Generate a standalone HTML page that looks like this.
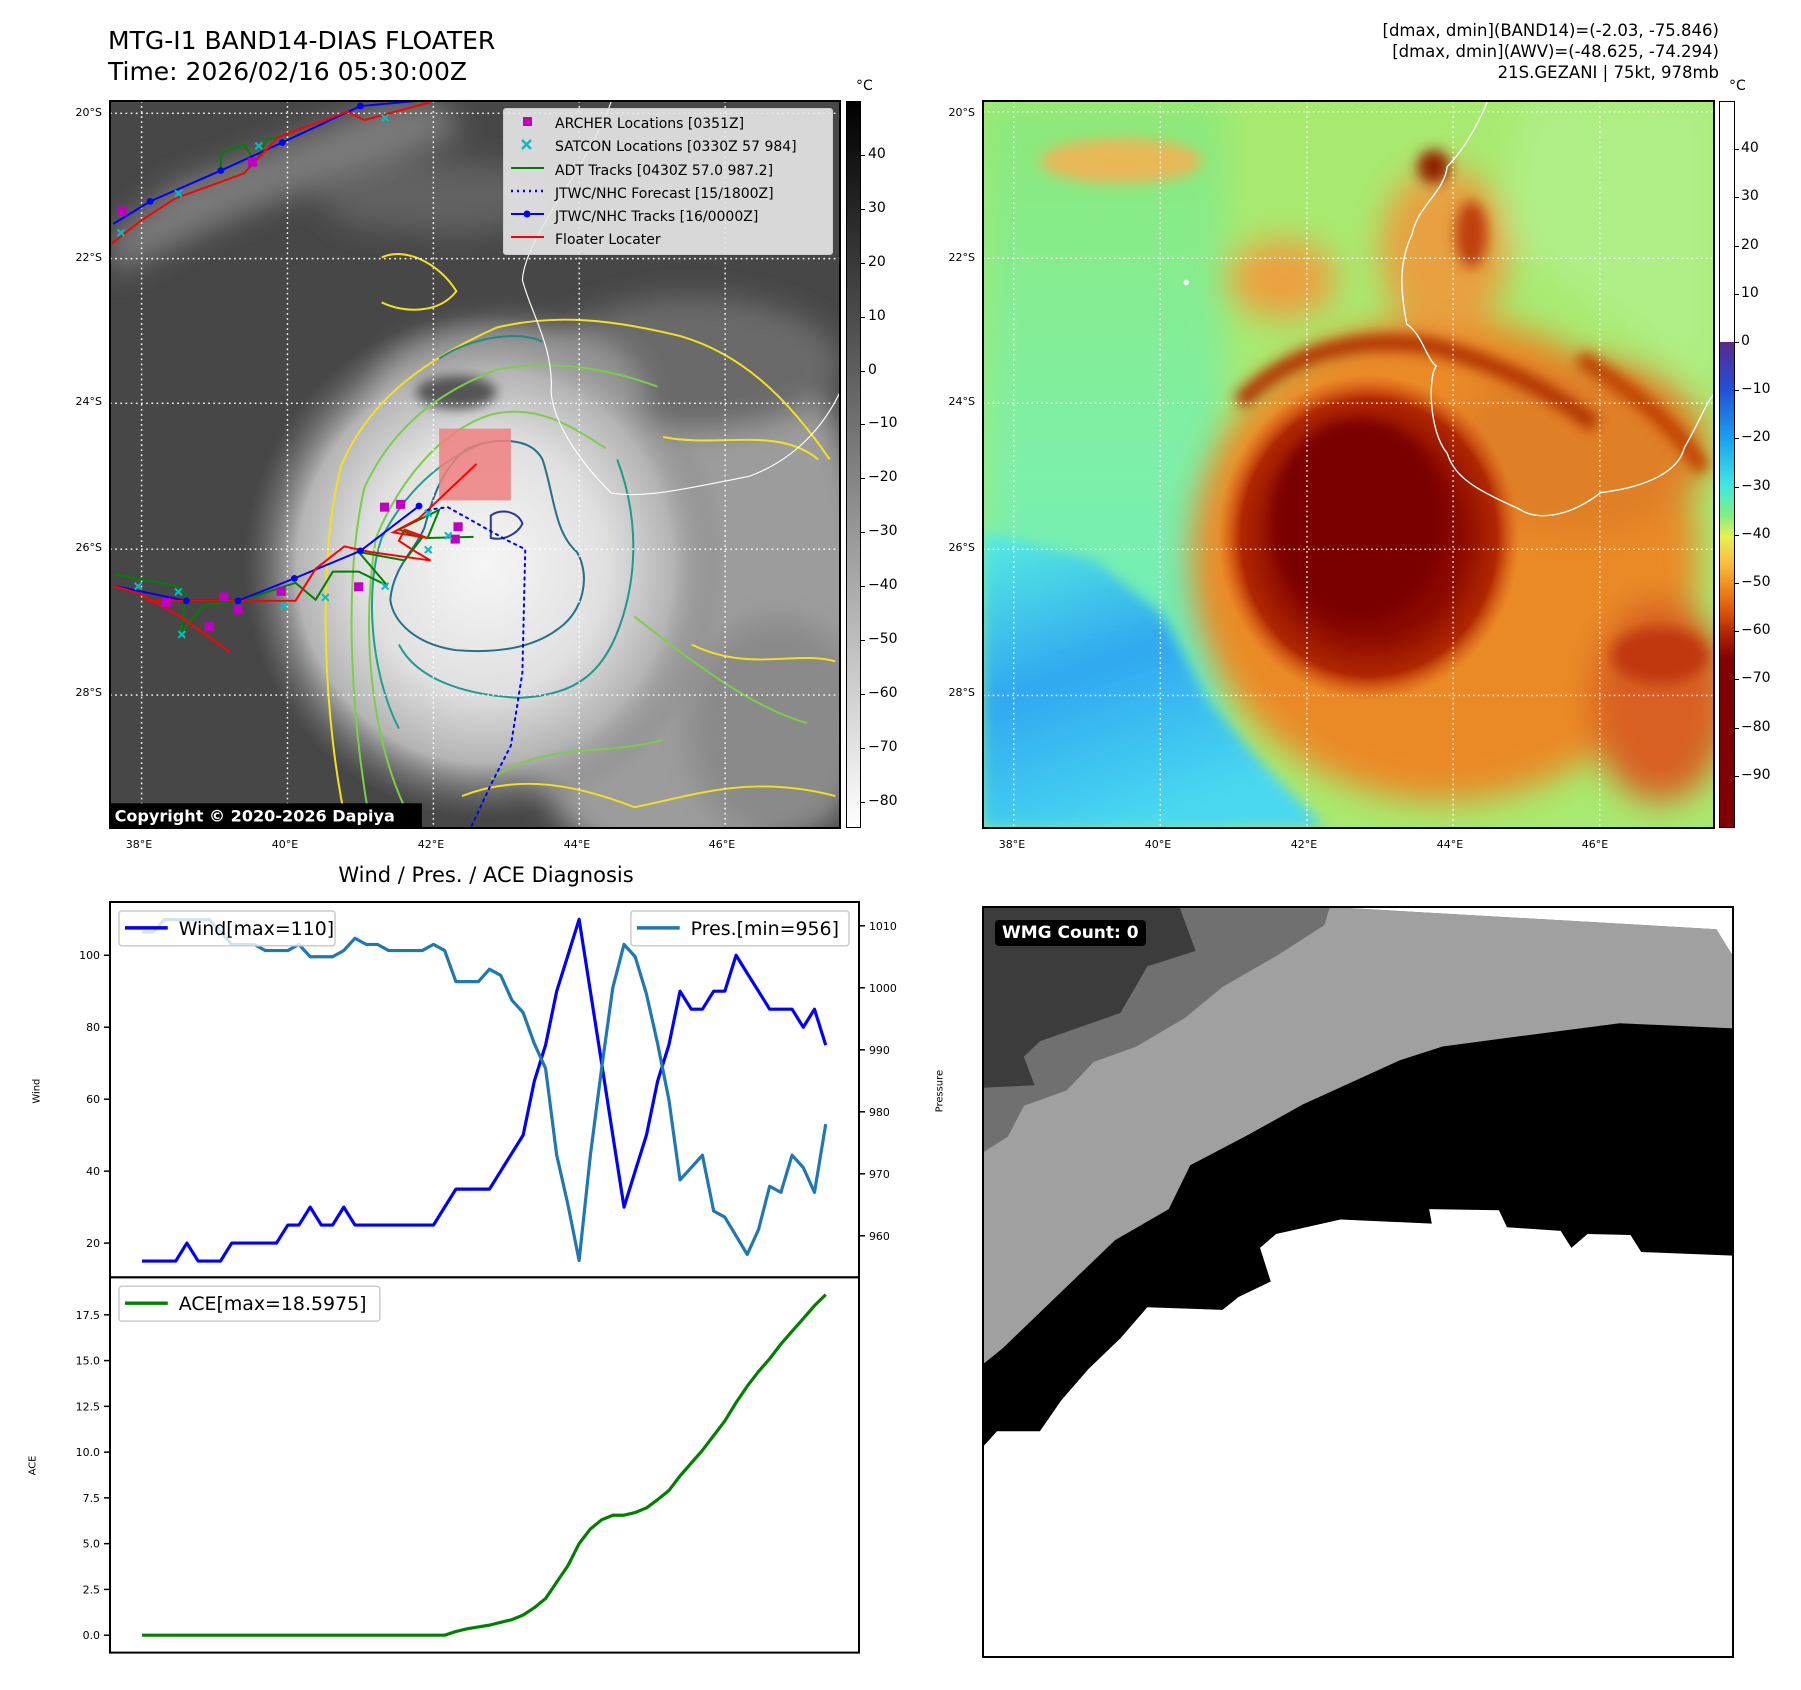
<!DOCTYPE html>
<html><head><meta charset="utf-8"><title>MTG-I1 BAND14-DIAS FLOATER</title>
<style>
body{margin:0;background:#fff;}
#page{position:relative;width:1801px;height:1690px;background:#fff;overflow:hidden;font-family:"DejaVu Sans","Liberation Sans",sans-serif;color:#000;}
.abs{position:absolute;}
.lbl{position:absolute;font-size:11px;white-space:nowrap;}
.cbl{position:absolute;font-size:14px;white-space:nowrap;}
.frame{position:absolute;border:2px solid #000;box-sizing:border-box;}
</style></head><body>
<div id="page">

<div class="abs" style="left:108px;top:25px;font-size:25px;line-height:31px;">MTG-I1 BAND14-DIAS FLOATER<br>Time: 2026/02/16 05:30:00Z</div>
<div class="abs" style="right:82px;top:20px;font-size:16.5px;line-height:21px;text-align:right;">[dmax, dmin](BAND14)=(-2.03, -75.846)<br>[dmax, dmin](AWV)=(-48.625, -74.294)<br>21S.GEZANI | 75kt, 978mb</div>

<!-- LEFT MAP -->
<svg class="abs" style="left:110px;top:101px;" width="730" height="727" viewBox="187 181 1271 1296" preserveAspectRatio="none">
<defs>
<filter id="b1" x="-50%" y="-50%" width="200%" height="200%"><feGaussianBlur stdDeviation="25"/></filter>
<filter id="b2" x="-50%" y="-50%" width="200%" height="200%"><feGaussianBlur stdDeviation="10"/></filter>
<radialGradient id="storm" cx="0.5" cy="0.5" r="0.5"><stop offset="0" stop-color="#f6f6f6"/><stop offset="0.5" stop-color="#e0e0e0"/><stop offset="0.78" stop-color="#b4b4b4"/><stop offset="1" stop-color="#7a7a7a" stop-opacity="0"/></radialGradient>
</defs>
<rect x="187" y="181" width="1271" height="1296" fill="#474747"/>
<g filter="url(#b1)">
<ellipse cx="1180" cy="1050" rx="330" ry="520" fill="#9c9c9c"/>
<ellipse cx="1200" cy="650" rx="260" ry="120" fill="#6a6a6a"/>
<polygon points="190,420 300,330 480,260 650,190 760,181 800,240 600,310 400,390 190,490" fill="#7a7a7a"/>
<polygon points="520,330 700,280 900,300 1000,380 800,420 600,400" fill="#626262"/>
<ellipse cx="880" cy="700" rx="230" ry="120" fill="#9a9a9a"/>
<ellipse cx="1350" cy="1300" rx="160" ry="200" fill="#8a8a8a"/>
</g>
<ellipse cx="840" cy="1010" rx="420" ry="450" fill="url(#storm)"/>
<ellipse cx="790" cy="700" rx="70" ry="30" fill="#555" filter="url(#b2)"/>
<g fill="none" stroke-width="3.5">
<path d="M600,1477 C560,1300 545,1000 590,830 C640,710 740,640 860,585 C960,560 1060,570 1180,600 C1280,630 1360,700 1440,820" stroke="#f5e020"/>
<path d="M640,1470 C610,1300 590,1050 630,870 C680,760 760,700 860,660 C960,640 1060,660 1140,690" stroke="#7ccd4a"/>
<path d="M700,1440 C650,1330 620,1150 650,960 C690,860 760,770 850,740 C930,720 990,760 1050,800" stroke="#7ccd4a"/>
<path d="M690,1300 C640,1200 630,1050 660,960 C700,880 760,820 840,790" stroke="#20a08a"/>
<path d="M810,800 C860,780 920,780 940,820 C960,880 960,950 1000,985 C1025,1030 1010,1090 970,1120 C920,1160 850,1165 790,1160 C720,1150 680,1110 675,1070 C680,1010 720,980 735,940 C750,880 770,830 810,800 Z" stroke="#22708a"/>
<path d="M1070,820 C1100,900 1110,1000 1080,1100 C1050,1200 1000,1240 900,1245 C800,1240 720,1210 690,1150" stroke="#1f9a8a"/>
<path d="M760,640 C820,600 900,590 940,610" stroke="#1f8a8a"/>
<path d="M1100,1100 C1200,1180 1300,1260 1400,1290" stroke="#7ccd4a"/>
<path d="M1150,780 C1250,800 1350,760 1420,820" stroke="#f5e020"/>
<path d="M800,1420 C900,1380 1000,1400 1100,1440 C1200,1420 1300,1380 1450,1420" stroke="#f5e020"/>
<path d="M1200,1150 C1300,1200 1380,1160 1450,1180" stroke="#f5e020"/>
<path d="M660,460 C700,440 760,470 790,520 C760,560 700,560 660,540" stroke="#f5e020"/>
<path d="M850,1390 C950,1320 1050,1350 1150,1320" stroke="#7ccd4a"/>
<path d="M850,920 C870,905 900,915 905,935 C895,955 870,965 850,960 Z" stroke="#2a3a8a"/>
</g>
<path d="M1060,181 C1020,300 910,420 905,500 C920,560 960,620 955,700 C960,760 1010,830 1060,880 C1120,890 1200,870 1300,850 C1380,820 1430,760 1458,700" fill="none" stroke="#fff" stroke-width="2"/>
<g stroke="#fff" stroke-width="2.5" stroke-dasharray="3,6">
<line x1="187" y1="203" x2="1458" y2="203"/><line x1="187" y1="462" x2="1458" y2="462"/><line x1="187" y1="720" x2="1458" y2="720"/><line x1="187" y1="980" x2="1458" y2="980"/><line x1="187" y1="1240" x2="1458" y2="1240"/>
<line x1="242" y1="181" x2="242" y2="1477"/><line x1="496" y1="181" x2="496" y2="1477"/><line x1="750" y1="181" x2="750" y2="1477"/><line x1="1004" y1="181" x2="1004" y2="1477"/><line x1="1258" y1="181" x2="1258" y2="1477"/>
</g>
<rect x="760" y="765" width="125" height="128" fill="#f08080" opacity="0.85"/>
<g fill="none" stroke-width="3.5">
<polyline points="195,1025 300,1045 320,1060 310,1130 350,1080 420,1070 480,1050 510,1040 545,1070 575,1020 620,1020 670,1045 620,985 700,1000 730,960 690,945 760,910 740,960 820,958" stroke="#008000"/>
<polyline points="380,300 380,275 420,258 440,290 460,250 500,240" stroke="#008000"/>
<polyline points="193,1045 320,1072 410,1072 508,1032 623,983 725,903" stroke="#0000ff"/>
<polyline points="193,400 257,360 380,305 487,255 623,190 720,181" stroke="#0000ff"/>
<polyline points="190,435 240,395 300,355 420,310 480,245 600,200 630,215 745,183" stroke="#ff0000"/>
<polyline points="193,1045 240,1060 310,1100 395,1163" stroke="#ff0000"/>
<polyline points="250,1072 510,1072 545,1015 595,975 640,985 745,1000 720,985 690,965 700,945 740,960 680,950 725,925 825,828" stroke="#ff0000"/>
<polyline points="740,910 775,905 880,965 910,980 905,1200 885,1330 850,1400 815,1477" stroke="#0000ff" stroke-dasharray="4,8" stroke-linecap="round"/>
</g>
<g fill="#0000ff"><circle cx="257" cy="360" r="6"/><circle cx="380" cy="305" r="6"/><circle cx="487" cy="255" r="6"/><circle cx="623" cy="190" r="6"/><circle cx="320" cy="1072" r="6"/><circle cx="410" cy="1072" r="6"/><circle cx="508" cy="1032" r="6"/><circle cx="623" cy="983" r="6"/><circle cx="725" cy="903" r="6"/></g>
<g fill="#c000c0"><rect x="200" y="369" width="16" height="16"/><rect x="427" y="282" width="16" height="16"/><rect x="277" y="1067" width="16" height="16"/><rect x="377" y="1057" width="16" height="16"/><rect x="402" y="1080" width="16" height="16"/><rect x="352" y="1110" width="16" height="16"/><rect x="477" y="1047" width="16" height="16"/><rect x="612" y="1039" width="16" height="16"/><rect x="657" y="897" width="16" height="16"/><rect x="685" y="892" width="16" height="16"/><rect x="785" y="932" width="16" height="16"/><rect x="780" y="954" width="16" height="16"/></g>
<g stroke="#00c0c0" stroke-width="3.5">
<path d="M230,1040l12,12m0,-12l-12,12M300,1050l12,12m0,-12l-12,12M306,1126l12,12m0,-12l-12,12M484,1075l12,12m0,-12l-12,12M556,1060l12,12m0,-12l-12,12M660,1040l12,12m0,-12l-12,12M735,975l12,12m0,-12l-12,12M770,950l12,12m0,-12l-12,12M735,910l12,12m0,-12l-12,12M300,340l12,12m0,-12l-12,12M440,255l12,12m0,-12l-12,12M660,205l12,12m0,-12l-12,12M200,410l12,12m0,-12l-12,12"/>
</g>
<rect x="187" y="1433" width="543" height="44" fill="#000"/>
<text x="195" y="1465" font-size="28" font-weight="bold" fill="#fff" font-family="DejaVu Sans, sans-serif">Copyright © 2020-2026 Dapiya</text>
</svg>
<div class="frame" style="left:109px;top:100px;width:732px;height:729px;"></div>

<!-- Legend -->
<div class="abs" style="left:503px;top:108px;width:328px;height:145px;background:rgba(232,232,232,0.9);border:1px solid #ccc;border-radius:3px;font-size:14px;">
<svg class="abs" style="left:0;top:0" width="328" height="145">
<rect x="19" y="8" width="9" height="9" fill="#c000c0"/>
<path d="M18,31l9,9m0,-9l-9,9" stroke="#00c0c0" stroke-width="2.5"/>
<line x1="7" y1="59" x2="40" y2="59" stroke="#008000" stroke-width="2"/>
<line x1="7" y1="82" x2="40" y2="82" stroke="#0000ff" stroke-width="2.5" stroke-dasharray="2,4"/>
<line x1="7" y1="105" x2="40" y2="105" stroke="#0000ff" stroke-width="2"/><circle cx="23" cy="105" r="3.5" fill="#0000ff"/>
<line x1="7" y1="128" x2="40" y2="128" stroke="#ff0000" stroke-width="2"/>
</svg>
<div class="abs" style="left:51px;top:4px;line-height:23.3px;white-space:nowrap;">ARCHER Locations [0351Z]<br>SATCON Locations [0330Z 57 984]<br>ADT Tracks [0430Z 57.0 987.2]<br>JTWC/NHC Forecast [15/1800Z]<br>JTWC/NHC Tracks [16/0000Z]<br>Floater Locater</div>
</div>

<!-- left colorbar -->
<div class="abs" style="left:846px;top:101px;width:15px;height:727px;background:linear-gradient(#000,#fff);border:1px solid #000;box-sizing:border-box;"></div>
<div class="cbl" style="left:856px;top:78px;">°C</div>

<!-- RIGHT MAP -->
<svg class="abs" style="left:983px;top:101px;" width="731" height="727" viewBox="44 183 1356 1294" preserveAspectRatio="none">
<defs>
<filter id="c1" x="-50%" y="-50%" width="200%" height="200%"><feGaussianBlur stdDeviation="30"/></filter>
<filter id="c2" x="-50%" y="-50%" width="200%" height="200%"><feGaussianBlur stdDeviation="12"/></filter>
<linearGradient id="lefty" x1="0" y1="0" x2="0" y2="1"><stop offset="0" stop-color="#8ce878"/><stop offset="0.5" stop-color="#7ef0a8"/><stop offset="1" stop-color="#60eccc"/></linearGradient>
<linearGradient id="blue" x1="0" y1="0" x2="0.4" y2="1"><stop offset="0" stop-color="#58eee0"/><stop offset="0.5" stop-color="#30a8f0"/><stop offset="1" stop-color="#48d8f0"/></linearGradient>
<radialGradient id="core" cx="0.5" cy="0.5" r="0.5"><stop offset="0" stop-color="#7c0000"/><stop offset="0.6" stop-color="#8a0800"/><stop offset="0.85" stop-color="#b02800"/><stop offset="1" stop-color="#d85010" stop-opacity="0"/></radialGradient>
</defs>
<rect x="44" y="183" width="1356" height="1294" fill="#a8ea70"/>
<rect x="44" y="183" width="450" height="1294" fill="url(#lefty)" filter="url(#c1)"/>
<g filter="url(#c1)">
<polygon points="1050,183 1400,183 1400,700 1200,560 1000,420" fill="#b0ee88"/>
<ellipse cx="900" cy="1000" rx="470" ry="430" fill="#ea8a28"/>
<ellipse cx="1150" cy="800" rx="240" ry="160" fill="#e08028"/>
<ellipse cx="1300" cy="1250" rx="130" ry="180" fill="#d86020"/>
<ellipse cx="900" cy="450" rx="120" ry="150" fill="#e8a040"/>
<ellipse cx="600" cy="500" rx="100" ry="70" fill="#eca040"/>
</g>
<g filter="url(#c2)">
<path d="M520,720 C620,620 760,600 880,620 C1000,650 1100,700 1180,760" fill="none" stroke="#b03000" stroke-width="30"/>
<path d="M1150,640 C1250,700 1330,760 1380,840" fill="none" stroke="#c04000" stroke-width="30"/>
<ellipse cx="880" cy="300" rx="30" ry="30" fill="#902000"/>
<ellipse cx="950" cy="420" rx="30" ry="60" fill="#c04010"/>
<ellipse cx="1300" cy="1170" rx="90" ry="50" fill="#c03810"/>
<ellipse cx="300" cy="290" rx="150" ry="40" fill="#e8b858"/>
</g>
<polygon points="44,950 250,1000 380,1100 460,1250 560,1360 680,1477 44,1477" fill="url(#blue)" filter="url(#c2)"/>
<ellipse cx="760" cy="960" rx="280" ry="290" fill="url(#core)"/>
<ellipse cx="740" cy="930" rx="160" ry="180" fill="#7a0000" filter="url(#c2)"/>
<path d="M980,183 C960,230 935,270 905,300 C900,345 850,370 840,420 C815,470 818,520 830,580 C860,600 865,640 885,655 C870,670 870,770 905,810 C920,855 960,875 1040,910 C1070,930 1130,925 1190,880 C1280,870 1335,840 1345,800 C1370,760 1385,720 1400,705" fill="none" stroke="#fff" stroke-width="2.5"/>
<circle cx="421" cy="506" r="5" fill="#fff"/>
<g stroke="#fff" stroke-width="2.5" stroke-dasharray="3,6">
<line x1="44" y1="202" x2="1400" y2="202"/><line x1="44" y1="463" x2="1400" y2="463"/><line x1="44" y1="721" x2="1400" y2="721"/><line x1="44" y1="981" x2="1400" y2="981"/><line x1="44" y1="1241" x2="1400" y2="1241"/>
<line x1="101" y1="183" x2="101" y2="1477"/><line x1="373" y1="183" x2="373" y2="1477"/><line x1="645" y1="183" x2="645" y2="1477"/><line x1="916" y1="183" x2="916" y2="1477"/><line x1="1188" y1="183" x2="1188" y2="1477"/>
</g>
</svg>
<div class="frame" style="left:982px;top:100px;width:733px;height:729px;"></div>
<div class="abs" style="left:1719px;top:101px;width:16px;height:727px;border:1px solid #000;box-sizing:border-box;background:linear-gradient(#fff 0%,#fff 33.1%,#5a2a8a 33.1%,#2050d8 39.7%,#18a0f0 46.3%,#40e8e0 53%,#80f080 57%,#e8f050 60%,#f8c040 63.5%,#f09020 66.5%,#e05808 70%,#b02000 73.5%,#800000 77%,#800000 100%);"></div>
<div class="cbl" style="left:1729px;top:78px;">°C</div>

<div class="abs" style="left:110px;width:752px;top:863px;text-align:center;font-size:21px;">Wind / Pres. / ACE Diagnosis</div>

<!-- WMG panel -->
<svg class="abs" style="left:983px;top:907px;" width="750" height="750" viewBox="44 45 1397 1452" preserveAspectRatio="none">
<rect x="44" y="45" width="1397" height="1452" fill="#fff"/>
<polygon fill="#000" points="44,45 1441,45 1441,720 1270,713 1250,680 1170,678 1140,705 1120,672 1020,665 1005,632 875,630 880,658 710,650 590,678 560,705 580,770 520,800 490,825 350,820 300,880 240,940 190,1000 150,1060 70,1060 44,1090"/>
<polygon fill="#a0a0a0" points="44,45 690,45 1410,88 1441,140 1441,280 1230,270 1060,293 900,315 820,342 640,427 540,485 430,545 390,630 290,690 230,750 140,840 80,900 44,930"/>
<polygon fill="#707070" points="44,45 690,45 680,80 590,140 490,200 420,260 330,315 250,345 200,400 120,430 90,490 44,520"/>
<polygon fill="#3c3c3c" points="44,45 410,45 440,130 350,160 300,250 150,305 120,335 140,390 44,395"/>
<polygon fill="#fff" points="690,45 1441,45 1441,140 1410,88"/>
</svg>
<div class="frame" style="left:982px;top:906px;width:752px;height:752px;"></div>
<div class="abs" style="left:995px;top:920px;background:#000;color:#fff;font-weight:bold;font-size:17px;padding:3px 7px;border-radius:4px;">WMG Count: 0</div>

<!-- Diagnosis chart -->
<svg id="chart" class="abs" style="left:0;top:0;" width="1801" height="1690"></svg>
</div>

<script>
const windValues=[15,15,15,15,20,15,15,15,20,20,20,20,20,25,25,30,25,25,30,25,25,25,25,25,25,25,25,30,35,35,35,35,40,45,50,65,75,90,100,110,90,70,50,30,40,50,65,75,90,85,85,90,90,100,95,90,85,85,85,80,85,75];
const presValues=[1009,1009,1011,1011,1011,1011,1011,1009,1007,1007,1007,1006,1006,1006,1007,1005,1005,1005,1006,1008,1007,1007,1006,1006,1006,1006,1007,1006,1001,1001,1001,1003,1002,998,996,991,987,973,965,956,973,987,1000,1007,1005,999,991,982,969,971,973,964,963,960,957,961,968,967,973,971,967,978];
const aceValues=[0,0,0,0,0,0,0,0,0,0,0,0,0,0,0,0,0,0,0,0,0,0,0,0,0,0,0,0,0.2,0.35,0.45,0.55,0.7,0.85,1.1,1.5,2.0,2.9,3.8,5.0,5.8,6.3,6.55,6.55,6.7,6.95,7.4,7.9,8.7,9.4,10.1,10.9,11.7,12.7,13.6,14.4,15.1,15.9,16.6,17.3,18.0,18.6];
const windTicks=[20,40,60,80,100];
const presTicks=[960,970,980,990,1000,1010];
const aceTicks=[0,2.5,5,7.5,10,12.5,15,17.5];
const irCbTicks=[40,30,20,10,0,-10,-20,-30,-40,-50,-60,-70,-80];
const awvCbTicks=[40,30,20,10,0,-10,-20,-30,-40,-50,-60,-70,-80,-90];
const latLabels=["20°S","22°S","24°S","26°S","28°S"];
const lonLabels=["38°E","40°E","42°E","44°E","46°E"];

const NS='http://www.w3.org/2000/svg';
const svg=document.getElementById('chart');
const root=document.createElementNS(NS,'g');
root.setAttribute('transform','translate(110,902) scale(0.996,0.9955) translate(-110,-907)');
svg.appendChild(root);
const n=windValues.length;
function xS(i){return 142.2+i*(828.6-142.2)/(n-1);}
function yW(v){return 960.5+(100-v)*3.614;}
function yP(p){return 930.9+(1010-p)*6.228;}
function yA(a){return 1643.5-a*18.39;}
function mk(tag,attrs){const e=document.createElementNS(NS,tag);for(const k in attrs)e.setAttribute(k,attrs[k]);root.appendChild(e);return e;}
function txt(x,y,s,size,anchor){const t=mk('text',{x:x,y:y,'font-size':size,'text-anchor':anchor||'start','font-family':'DejaVu Sans, Liberation Sans, sans-serif'});t.textContent=s;return t;}

const defs=mk('defs',{});
defs.innerHTML='<clipPath id="cw"><rect x="110" y="907" width="752" height="377"/></clipPath><clipPath id="ca"><rect x="110" y="1284" width="752" height="377"/></clipPath>';

let d='';windValues.forEach((v,i)=>{d+=(i?'L':'M')+xS(i).toFixed(1)+','+yW(v).toFixed(1);});
const wl=mk('path',{d:d,fill:'none',stroke:'#0000ff','stroke-width':3.2,'clip-path':'url(#cw)','stroke-linejoin':'round'});


d='';presValues.forEach((v,i)=>{d+=(i?'L':'M')+xS(i).toFixed(1)+','+yP(v).toFixed(1);});
const pl=mk('path',{d:d,fill:'none',stroke:'#1f77b4','stroke-width':3.2,'clip-path':'url(#cw)','stroke-linejoin':'round'});


d='';aceValues.forEach((v,i)=>{d+=(i?'L':'M')+xS(i).toFixed(1)+','+yA(v).toFixed(1);});
const al=mk('path',{d:d,fill:'none',stroke:'#008000','stroke-width':3.2,'clip-path':'url(#ca)','stroke-linejoin':'round'});



const f1=mk('rect',{x:110,y:907,width:752,height:377,fill:'none',stroke:'#000','stroke-width':2});


const f2=mk('rect',{x:110,y:1284,width:752,height:377,fill:'none',stroke:'#000','stroke-width':2});



windTicks.forEach(v=>{const y=yW(v);mk('line',{x1:104,y1:y,x2:110,y2:y,stroke:'#000','stroke-width':1.5});const t=txt(100,y+4,String(v),11,'end');});
presTicks.forEach(v=>{const y=yP(v);mk('line',{x1:862,y1:y,x2:868,y2:y,stroke:'#000','stroke-width':1.5});const t=txt(872,y+4,String(v),11,'start');});
aceTicks.forEach(v=>{const y=yA(v);mk('line',{x1:104,y1:y,x2:110,y2:y,stroke:'#000','stroke-width':1.5});const t=txt(100,y+4,v.toFixed(1),11,'end');});

let t=txt(0,0,'Wind',10,'middle');t.setAttribute('transform','translate(39,1097) rotate(-90)');


t=txt(0,0,'Pressure',10,'middle');t.setAttribute('transform','translate(946,1097) rotate(-90)');


t=txt(0,0,'ACE',10,'middle');t.setAttribute('transform','translate(35,1473) rotate(-90)');



function legend(x,w,y,color,label,nm){
 const g=mk('g',{});
 
 
 const r=document.createElementNS(NS,'rect');r.setAttribute('x',x);r.setAttribute('y',y);r.setAttribute('width',w);r.setAttribute('height',35);r.setAttribute('rx',3);r.setAttribute('fill','rgba(255,255,255,0.8)');r.setAttribute('stroke','#ccc');r.setAttribute('stroke-width',1.5);g.appendChild(r);
 const l=document.createElementNS(NS,'line');l.setAttribute('x1',x+6);l.setAttribute('x2',x+49);l.setAttribute('y1',y+17);l.setAttribute('y2',y+17);l.setAttribute('stroke',color);l.setAttribute('stroke-width',3.5);g.appendChild(l);
 const tx=document.createElementNS(NS,'text');tx.setAttribute('x',x+60);tx.setAttribute('y',y+24);tx.setAttribute('font-size',19);tx.setAttribute('font-family','DejaVu Sans, Liberation Sans, sans-serif');tx.textContent=label;g.appendChild(tx);
}
legend(119,217,916,'#0000ff','Wind[max=110]','wind-legend');
legend(633,219,916,'#1f77b4','Pres.[min=956]','pressure-legend');
legend(119,262,1293,'#008000','ACE[max=18.5975]','ace-legend');

function addDiv(parent,cls,left,top,s,nm,extra){const e=document.createElement('div');e.className=cls;e.style.left=left+'px';e.style.top=top+'px';if(extra)e.style.cssText+=extra;e.textContent=s;parent.appendChild(e);return e;}
const page=document.getElementById('page');
irCbTicks.forEach(v=>{const y=101+(50-v)*5.39;const tk=document.createElement('div');tk.className='abs';tk.style.cssText='left:861px;top:'+y+'px;width:4px;height:1px;background:#000;';page.appendChild(tk);addDiv(page,'cbl',868,y-9,(v<0?'\u2212':'')+Math.abs(v),'ir-colorbar-tick');});
awvCbTicks.forEach(v=>{const y=101+(50-v)*4.82;const tk=document.createElement('div');tk.className='abs';tk.style.cssText='left:1735px;top:'+y+'px;width:4px;height:1px;background:#000;';page.appendChild(tk);addDiv(page,'cbl',1741,y-9,(v<0?'\u2212':'')+Math.abs(v),'awv-colorbar-tick');});
const latY=[113,258,402,548,693];
latLabels.forEach((s,i)=>{addDiv(page,'lbl',0,latY[i]-7,s,'lat-label','width:102px;text-align:right;');addDiv(page,'lbl',875,latY[i]-7,s,'lat-label','width:100px;text-align:right;');});
const lonX=[139,285,431,577,722];
lonLabels.forEach((s,i)=>{addDiv(page,'lbl',lonX[i]-20,838,s,'lon-label','width:40px;text-align:center;');addDiv(page,'lbl',lonX[i]+873-20,838,s,'lon-label','width:40px;text-align:center;');});
</script>
</body></html>
